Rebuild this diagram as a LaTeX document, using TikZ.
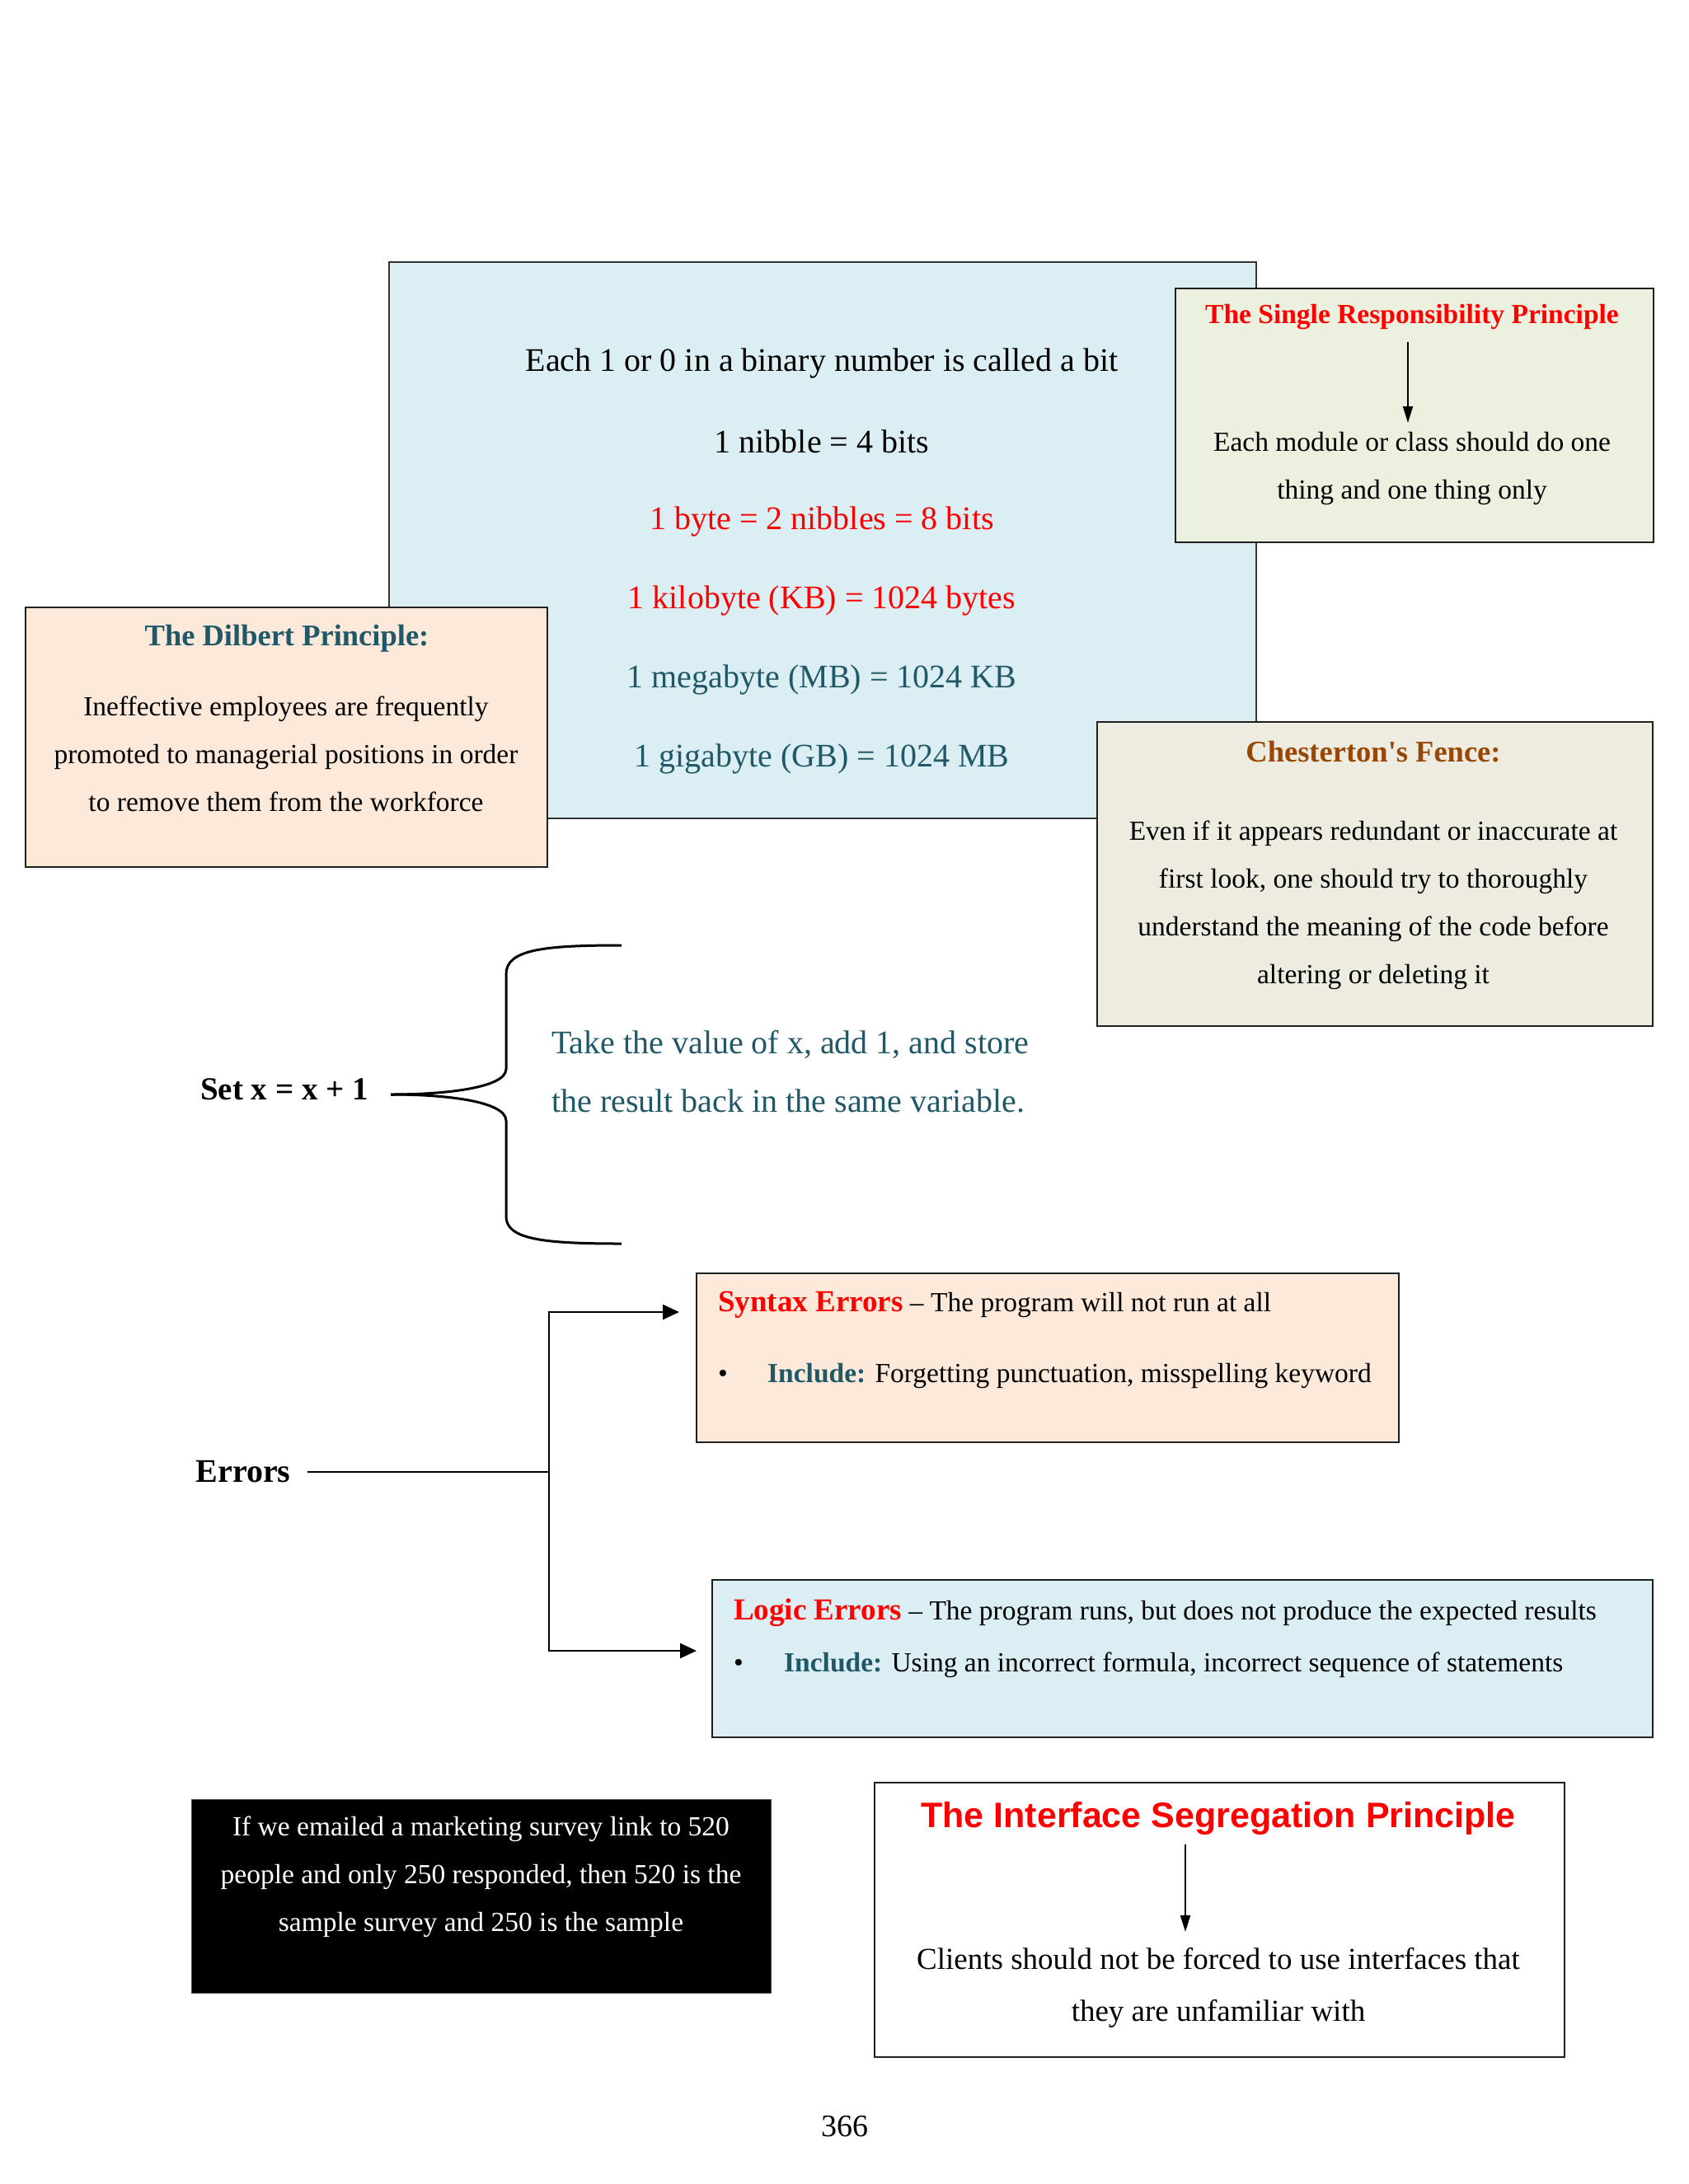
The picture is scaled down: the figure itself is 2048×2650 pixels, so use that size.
\documentclass[tikz,border=0pt]{standalone}
\usepackage{fontspec}
\setmainfont{Liberation Serif}
\newfontfamily\sansbf{Liberation Sans}
\usetikzlibrary{arrows.meta}
\definecolor{tealx}{HTML}{215868}
\definecolor{brownx}{HTML}{984806}
\definecolor{redx}{HTML}{FF0000}
\definecolor{bluefill}{HTML}{DAEEF3}
\definecolor{greenfill}{HTML}{EBF1DE}
\definecolor{peachfill}{HTML}{FDE9D9}
\definecolor{tanfill}{HTML}{EEECE1}
\tikzset{
  box/.style={draw=black!88, line width=2.5pt, inner sep=0pt},
  thinbox/.style={draw=black!80, line width=1.5pt, inner sep=0pt},
  big/.style={inner sep=0pt, font=\fontsize{40}{48}\selectfont},
  small/.style={inner sep=0pt, align=center, font=\fontsize{33.5}{58}\selectfont},
  ttl/.style={inner sep=0pt, font=\fontsize{36.5}{44}\selectfont\bfseries},
  conn/.style={line width=2.5pt, draw=black},
  arr/.style={line width=2.5pt, draw=black, -{Triangle[length=20pt,width=18pt]}},
  thinarr/.style={line width=2pt, draw=black, -{Triangle[length=20pt,width=12pt]}},
  bracepath/.style={line width=3pt, draw=black}
}
\begin{document}
\begin{tikzpicture}[x=1pt,y=-1pt]
\useasboundingbox[fill=white] (0,0) rectangle (2048,2650);

% big binary box
\node[thinbox, fill=bluefill, minimum width=1052pt, minimum height=675pt] (bigbox) at (998,655.5) {};
\node[big] (b1) at (997,441) {Each 1 or 0 in a binary number is called a bit};
\node[big] (b2) at (997,536) {1 nibble = 4 bits};
\node[big, text=redx] (b3) at (997,633) {1 byte = 2 nibbles = 8 bits};
\node[big, text=redx] (b4) at (997,729) {1 kilobyte (KB) = 1024 bytes};
\node[big, text=tealx] (b5) at (997,825) {1 megabyte (MB) = 1024 KB};
\node[big, text=tealx] (b6) at (997,921) {1 gigabyte (GB) = 1024 MB};

% single responsibility
\node[box, fill=greenfill, minimum width=580pt, minimum height=308pt] (srp) at (1716,504) {};
\node[inner sep=0pt, font=\fontsize{33.5}{40}\selectfont\bfseries, text=redx] (srpt) at (1713,385) {The Single Responsibility Principle};
\node[small] (srpx) at (1713,568) {Each module or class should do one\\thing and one thing only};
\coordinate (srpa) at (1708,513);
\draw[thinarr] (srpt.south -| srpa) ++(0,14) -- (srpa);

% Dilbert
\node[box, fill=peachfill, minimum width=633pt, minimum height=315pt] (dil) at (347.5,894.5) {};
\node[ttl, text=tealx] (dilt) at (348,775) {The Dilbert Principle:};
\node[small] (dilx) at (347,915) {Ineffective employees are frequently\\promoted to managerial positions in order\\to remove them from the workforce};

% Chesterton
\node[box, fill=tanfill, minimum width=674pt, minimum height=369pt] (ches) at (1668,1060.5) {};
\node[ttl, text=brownx] (chest) at (1666,912) {Chesterton\textquotesingle s Fence:};
\node[small] (chesx) at (1666,1098) {Even if it appears redundant or inaccurate at\\first look, one should try to thoroughly\\understand the meaning of the code before\\altering or deleting it};

% set x = x + 1
\node[inner sep=0pt, font=\fontsize{39}{46}\selectfont\bfseries] (setx) at (345,1322) {Set x = x + 1};
\draw[bracepath] (474,1328) .. controls (540,1328) and (614,1320) .. (614,1297) -- (614,1182) .. controls (614,1152) and (660,1147) .. (754,1147);
\draw[bracepath] (474,1328) .. controls (540,1328) and (614,1336) .. (614,1360) -- (614,1476) .. controls (614,1504) and (660,1509) .. (754,1509);
\node[inner sep=0pt, align=left, anchor=west, text=tealx, font=\fontsize{40}{71}\selectfont] (takex) at (669,1300) {Take the value of x, add 1, and store\\the result back in the same variable.};

% errors
\node[box, fill=peachfill, minimum width=852pt, minimum height=205pt] (syn) at (1271,1647.5) {};
\node[inner sep=0pt, anchor=west, font=\fontsize{33.5}{40}\selectfont] (synt) at (871,1583) {\textcolor{redx}{\fontsize{37}{40}\selectfont\bfseries Syntax Errors} -- The program will not run at all};
\node[inner sep=0pt, anchor=west, font=\fontsize{33.5}{40}\selectfont] (synb) at (871,1669) {\makebox[60pt][l]{\textbullet}\textcolor{tealx}{\bfseries Include:} Forgetting punctuation, misspelling keyword};

\node[box, fill=bluefill, minimum width=1141pt, minimum height=191pt] (log) at (1434.5,2012.5) {};
\node[inner sep=0pt, anchor=west, font=\fontsize{33.5}{40}\selectfont] (logt) at (890,1957) {\textcolor{redx}{\fontsize{37}{40}\selectfont\bfseries Logic Errors} -- The program runs, but does not produce the expected results};
\node[inner sep=0pt, anchor=west, font=\fontsize{33.5}{40}\selectfont] (logb) at (890,2020) {\makebox[61pt][l]{\textbullet}\textcolor{tealx}{\bfseries Include:} Using an incorrect formula, incorrect sequence of statements};

\node[inner sep=0pt, font=\fontsize{40}{48}\selectfont\bfseries] (err) at (295,1786) {Errors};
\coordinate (junc) at (666,1786);
\coordinate (tsyn) at (824,1592);
\coordinate (tlog) at (845,2003);
\draw[conn] ([xshift=20pt]err.east) -- (junc);
\draw[line width=2pt] (666,1592) -- (666,2003);
\draw[arr] (junc) |- (tsyn);
\draw[arr] (junc) |- (tlog);

% black box
\node[draw=black!70, line width=1pt, fill=black, minimum width=703pt, minimum height=235pt, inner sep=0pt] (blk) at (583.5,2300.5) {};
\node[small, text=white] (blkx) at (583.5,2277) {If we emailed a marketing survey link to 520\\people and only 250 responded, then 520 is the\\sample survey and 250 is the sample};

% interface segregation
\node[box, fill=white, minimum width=837pt, minimum height=333pt] (isp) at (1479.5,2329.5) {};
\node[inner sep=0pt, text=redx, font=\fontsize{43}{48}\sansbf\bfseries] (ispt) at (1478,2206) {The Interface Segregation Principle};
\node[inner sep=0pt, align=center, font=\fontsize{37}{63}\selectfont] (ispx) at (1478,2412) {Clients should not be forced to use interfaces that\\they are unfamiliar with};
\coordinate (ispa) at (1438,2344);
\draw[thinarr] (ispt.south -| ispa) ++(0,12) -- (ispa);

\node[inner sep=0pt, font=\fontsize{38}{46}\selectfont] (pg) at (1025,2580) {366};
\end{tikzpicture}
\end{document}
